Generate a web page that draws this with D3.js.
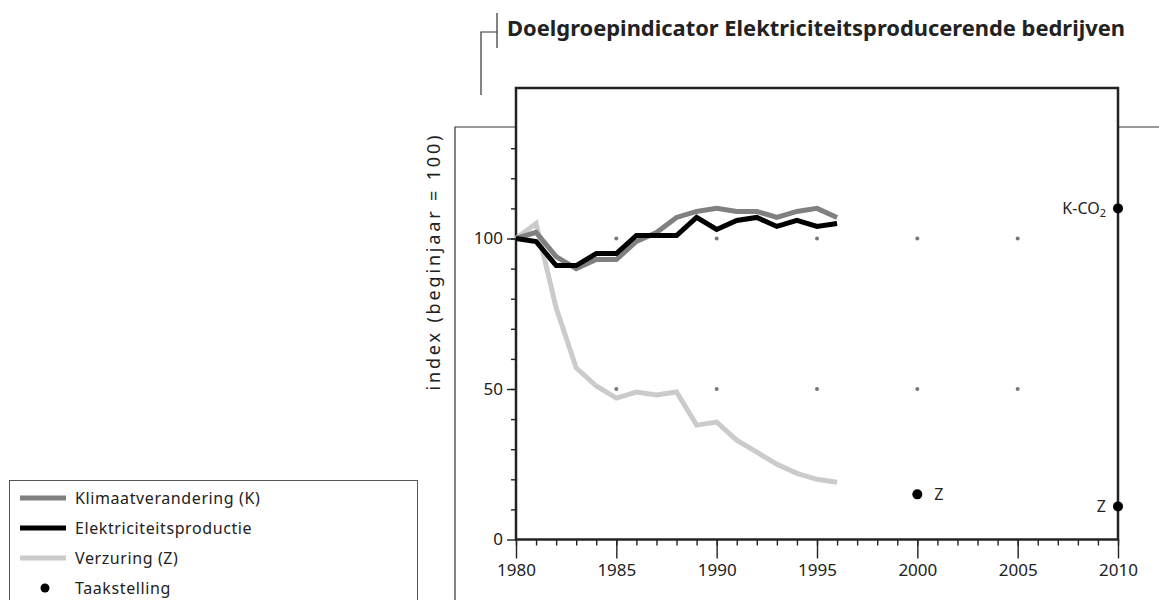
<!DOCTYPE html>
<html>
<head>
<meta charset="utf-8">
<script src="https://cdn.jsdelivr.net/npm/d3@7"></script>
<style>
  body { margin: 0; background: #fff; }
  svg text { font-family: "Noto Sans", "Open Sans", sans-serif; fill: #222; }
  .axis text { font-size: 17px; }
  .axis line { stroke: #222; stroke-width: 1.4; }
</style>
</head>
<body>
<div id="chart"></div>
<script>
const WIDTH = 1159, HEIGHT = 600;

// data
const years = d3.range(1980, 1997);
const klimaat = [100, 102, 94, 90, 93, 93, 99, 102, 107, 109, 110, 109, 109, 107, 109, 110, 107];
const elektriciteit = [100, 99, 91, 91, 95, 95, 101, 101, 101, 107, 103, 106, 107, 104, 106, 104, 105];
const verzuring = [100, 105, 77, 57, 51, 47, 49, 48, 49, 38, 39, 33, 29, 25, 22, 20, 19];

const targetYears = [2000, 2010, 2010];
const targetValues = [15, 110, 11];
const targetLabels = ['Z', 'K-CO2', 'Z'];

const gridYears = [1985, 1990, 1995, 2000, 2005];
const gridValues = [50, 100];

const xMajorTicks = [1980, 1985, 1990, 1995, 2000, 2005, 2010];
const yMajorTicks = [0, 50, 100];

const seriesNames = ['Klimaatverandering (K)', 'Elektriciteitsproductie', 'Verzuring (Z)'];
const seriesColors = ['#808080', '#000000', '#cbcbcb'];

const svg = d3.select('#chart').append('svg')
    .attr('width', WIDTH)
    .attr('height', HEIGHT);

const x = d3.scaleLinear().domain([1980, 2010]).range([516, 1118]);
const y = d3.scaleLinear().domain([0, 150]).range([539.5, 88]);

// frame lines and title bracket
svg.append('path')
    .attr('d', 'M455,600V127H516M1118,127H1159')
    .attr('fill', 'none').attr('stroke', '#333').attr('stroke-width', 1.2);
svg.append('path')
    .attr('d', 'M481,95V32H497M497,13V48')
    .attr('fill', 'none').attr('stroke', '#333').attr('stroke-width', 1.2);

svg.append('text')
    .attr('x', 507).attr('y', 36)
    .attr('font-family', 'Roboto, "Noto Sans", sans-serif')
    .attr('font-size', 21).attr('font-weight', 'bold')
    .attr('textLength', 618).attr('lengthAdjust', 'spacingAndGlyphs')
    .text('Doelgroepindicator Elektriciteitsproducerende bedrijven');

// y label
svg.append('text')
    .attr('transform', 'translate(440,263) rotate(-90)')
    .attr('text-anchor', 'middle')
    .attr('font-size', 18)
    .attr('textLength', 255)
    .text('index (beginjaar = 100)');

// axes
const xMinor = d3.axisBottom(x).tickValues(d3.range(1980, 2011)).tickSize(6).tickFormat('');
const xMajor = d3.axisBottom(x).tickValues(xMajorTicks).tickSize(19).tickPadding(5).tickFormat(d3.format('d'));
const yMinor = d3.axisLeft(y).tickValues(d3.range(10, 140, 10)).tickSize(5).tickFormat('');
const yMajor = d3.axisLeft(y).tickValues(yMajorTicks).tickSize(9).tickPadding(4);

[xMinor, xMajor].forEach(a => {
    svg.append('g').attr('class', 'axis')
        .attr('transform', `translate(0,${y(0)})`)
        .call(a)
        .call(g => g.select('.domain').remove());
});
[yMinor, yMajor].forEach(a => {
    svg.append('g').attr('class', 'axis')
        .attr('transform', `translate(${x(1980)},0)`)
        .call(a)
        .call(g => g.select('.domain').remove());
});

// plot box
svg.append('rect')
    .attr('x', x(1980)).attr('y', y(150))
    .attr('width', x(2010) - x(1980)).attr('height', y(0) - y(150))
    .attr('fill', 'none').attr('stroke', '#222').attr('stroke-width', 2.5);

// grid dots
gridYears.forEach(yr => {
    gridValues.forEach(v => {
        svg.append('circle')
            .attr('cx', x(yr)).attr('cy', y(v)).attr('r', 2)
            .attr('fill', '#777');
    });
});

// lines
const line = d3.line()
    .x((d, i) => x(years[i]))
    .y(d => y(d));

[verzuring, klimaat, elektriciteit].forEach((s, i) => {
    const color = [seriesColors[2], seriesColors[0], seriesColors[1]][i];
    svg.append('path')
        .datum(s)
        .attr('d', line)
        .attr('fill', 'none')
        .attr('stroke', color)
        .attr('stroke-width', 5)
        .attr('stroke-linejoin', 'miter');
});

// targets
targetYears.forEach((yr, i) => {
    svg.append('circle')
        .attr('cx', x(yr)).attr('cy', y(targetValues[i])).attr('r', 5)
        .attr('fill', '#000');
    const right = yr < 2010;
    const t = svg.append('text')
        .attr('x', right ? x(yr) + 17 : x(yr) - 12)
        .attr('y', y(targetValues[i]) + 6)
        .attr('font-size', 16)
        .attr('text-anchor', right ? 'start' : 'end');
    const lab = targetLabels[i];
    if (lab.endsWith('2')) {
        t.append('tspan').text(lab.slice(0, -1));
        t.append('tspan').attr('font-size', 11).attr('dy', 3).text('2');
    } else {
        t.text(lab);
    }
});

// legend
svg.append('rect')
    .attr('x', 9.5).attr('y', 480.5).attr('width', 408).attr('height', 140)
    .attr('fill', 'none').attr('stroke', '#555').attr('stroke-width', 1);

const legendColors = [seriesColors[0], seriesColors[1], seriesColors[2]];
seriesNames.forEach((name, i) => {
    const ly = 498 + i * 30;
    svg.append('line')
        .attr('x1', 20).attr('x2', 66).attr('y1', ly).attr('y2', ly)
        .attr('stroke', legendColors[i]).attr('stroke-width', 5);
    svg.append('text')
        .attr('x', 75).attr('y', ly + 5.5)
        .attr('font-size', 16).attr('letter-spacing', 0.6)
        .text(name);
});
svg.append('circle').attr('cx', 45).attr('cy', 588).attr('r', 4.5).attr('fill', '#000');
svg.append('text')
    .attr('x', 75).attr('y', 593.5)
    .attr('font-size', 16).attr('letter-spacing', 0.6)
    .text('Taakstelling');
</script>
</body>
</html>
